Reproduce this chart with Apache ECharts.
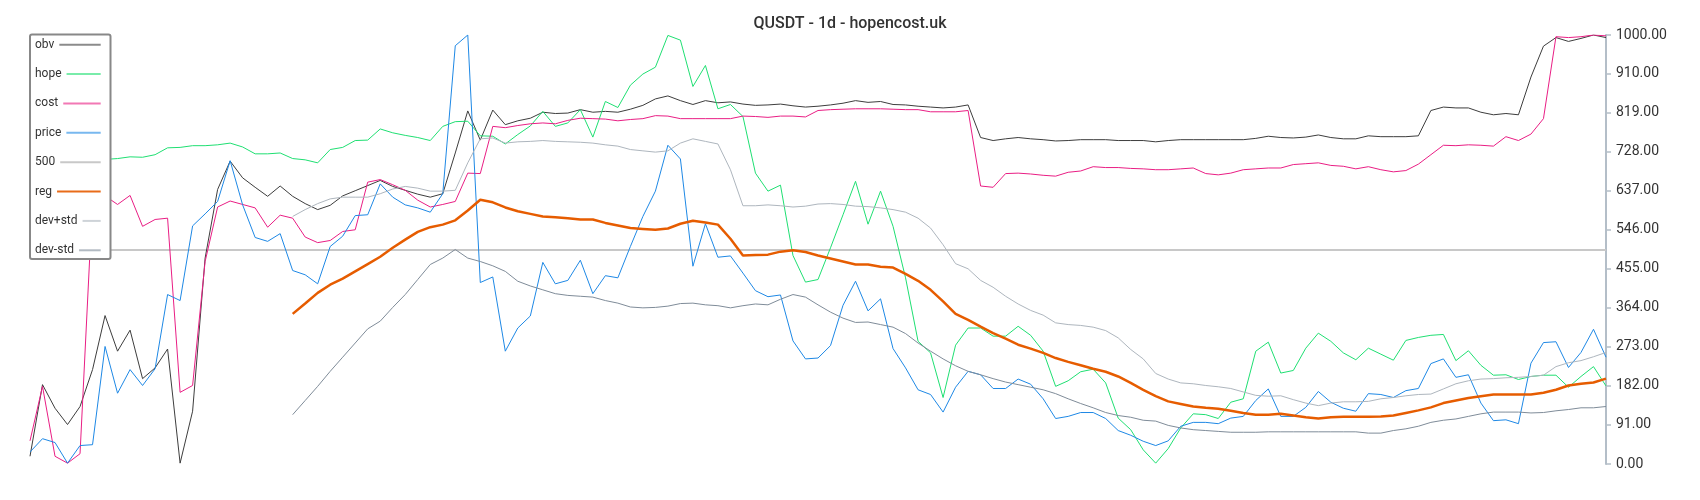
<!DOCTYPE html>
<html>
<head>
<meta charset="utf-8">
<script src="https://cdn.jsdelivr.net/npm/echarts@6/dist/echarts.min.js"></script>
<style>html,body{margin:0;padding:0;background:#fff;}#chart{width:1700px;height:500px;}</style>
</head>
<body>
<div id="chart"></div>
<script>
const titleText = 'QUSDT - 1d - hopencost.uk';
const seriesNames = ['obv', 'hope', 'cost', 'price', '500', 'reg', 'dev+std', 'dev-std'];
const yTicks = [0, 91, 182, 273, 364, 455, 546, 637, 728, 819, 910, 1000];
const level500 = 500;

const obv = [18,185,130,92,134,220,346,263,312,199,224,268,2,123,480,640,706,667,645,624,648,
624,607,593,603,625,637,649,661,647,638,629,622,630,725,823,755,825,791,800,806,
820,817,818,826,820,822,820,827,836,851,858,847,838,847,842,844,839,836,837,839,
835,832,834,837,841,847,843,845,838,837,834,832,830,832,837,761,754,758,761,758,
756,753,754,756,756,756,754,754,754,751,754,756,756,756,756,756,756,759,764,761,
760,762,767,761,758,758,765,763,763,763,765,824,832,830,830,820,814,817,814,902,974,
994,985,992,1000,994];

const hope = [708,714,711,716,713,715,710,712,716,715,721,737,738,742,742,744,748,739,723,723,725,
712,709,702,733,738,754,755,781,772,766,761,754,787,798,799,765,764,746,768,788,
822,787,795,826,762,845,831,883,909,925,999,988,880,929,828,838,810,678,636,650,
486,424,430,504,581,659,559,636,554,434,286,259,155,277,317,317,298,298,321,300,
263,181,194,215,221,189,107,80,33,2,36,84,117,115,106,144,152,263,284,212,
218,270,305,286,259,243,270,256,242,288,295,300,302,241,264,230,207,208,197,204,207,
207,179,204,227,182];

const cost = [54,181,18,2,24,615,625,605,626,554,570,573,167,183,472,599,613,605,597,552,580,
573,529,516,521,542,546,657,663,651,638,615,599,605,612,678,677,787,784,789,793,
795,793,801,806,805,804,800,803,805,812,811,805,805,805,805,805,811,810,808,811,
811,809,824,826,827,828,828,828,827,826,826,821,821,821,824,648,645,677,678,676,
673,671,680,683,693,691,691,689,688,686,686,688,690,677,674,678,686,688,690,690,
698,700,702,696,694,688,693,686,681,684,699,721,743,742,744,743,741,763,754,769,805,
996,994,996,1000,998];

const price = [28,59,50,2,43,45,274,165,220,183,222,395,381,555,583,612,707,604,528,519,537,
451,441,420,507,531,579,581,653,622,604,597,587,630,975,1000,423,436,263,317,345,
470,420,428,475,397,439,434,507,577,636,743,711,461,560,482,485,445,404,390,394,
287,245,247,276,370,426,357,385,269,224,173,162,121,179,216,208,176,176,198,186,
152,106,111,120,120,106,78,67,53,43,54,88,97,97,94,107,111,148,175,111,
111,132,169,144,130,123,164,162,155,171,176,234,245,202,208,142,101,103,94,235,283,
285,225,260,314,249];

const N = null;
const reg = [N,N,N,N,N,N,N,N,N,N,N,N,N,N,N,N,N,N,N,N,N,
350,374,399,418,432,449,466,483,504,523,541,552,558,568,591,616,610,598,589,583,
577,575,573,570,570,562,556,550,548,546,549,560,567,563,558,525,486,487,488,495,
498,494,486,479,472,465,465,460,458,443,427,406,379,350,336,320,305,292,278,269,
259,247,238,230,222,215,204,189,173,158,146,140,134,131,129,124,119,115,115,117,
113,109,106,109,110,110,110,111,113,119,125,132,142,148,154,158,162,162,162,162,166,
173,183,187,190,199];

const devPlus = [N,N,N,N,N,N,N,N,N,N,N,N,N,N,N,N,N,N,N,N,N,
577,593,607,618,622,622,622,630,641,647,643,636,636,638,702,758,760,748,751,752,
754,752,751,750,748,744,741,733,730,727,730,748,758,752,746,686,602,602,604,602,
599,601,606,607,605,601,600,597,593,587,573,550,511,467,455,428,412,391,373,358,
347,329,325,323,319,311,294,267,245,211,198,189,187,183,180,176,168,160,158,159,
150,142,136,142,145,145,146,152,155,159,162,163,175,187,194,198,199,201,202,204,207,
227,236,241,250,260];

const devMinus = [N,N,N,N,N,N,N,N,N,N,N,N,N,N,N,N,N,N,N,N,N,
115,148,181,216,249,282,315,333,365,395,430,465,480,500,480,472,462,449,426,415,
406,397,393,391,389,381,375,366,364,365,368,374,375,371,369,364,369,373,371,384,
395,389,371,354,340,330,331,325,319,304,282,263,245,229,216,208,199,191,185,179,
173,164,152,141,131,120,113,109,102,100,90,84,80,78,76,74,74,74,75,75,
75,75,75,75,75,75,72,72,78,82,88,97,102,105,111,117,121,121,121,119,120,
124,127,131,131,134];

const categories = obv.map((_, i) => String(i + 1));

const colors = {
  'obv': '#3d3d3d', 'hope': '#1fdf72', 'cost': '#e91e84', 'price': '#1e88e5',
  '500': '#c8c8c8', 'reg': '#e65c00', 'dev+std': '#aeb6be', 'dev-std': '#7f8c99'
};
const widths = {'obv':1,'hope':1,'cost':1,'price':1,'500':2,'reg':2.5,'dev+std':1,'dev-std':1};
const dataMap = {'obv': obv, 'hope': hope, 'cost': cost, 'price': price, 'reg': reg, 'dev+std': devPlus, 'dev-std': devMinus};

const series = seriesNames.map(name => {
  const s = {
    name: name, type: 'line', symbol: 'none', showSymbol: false,
    color: colors[name],
    lineStyle: {color: colors[name], width: widths[name]},
    data: name === '500' ? [] : dataMap[name],
    connectNulls: false
  };
  if (name === '500') {
    s.markLine = {
      z: 2, silent: true, symbol: ['none', 'none'], label: {show: false},
      lineStyle: {color: colors[name], width: 2, type: 'solid'},
      data: [{yAxis: level500}]
    };
  }
  return s;
});

// legend layout (one legend per entry so each line icon can end at the same x)
const legendFontSize = 12;
const legendOpacity = [0.6, 0.6, 0.6, 0.6, 1, 0.9, 0.6, 0.6];
const boxL = 30, boxT = 34.5, boxR = 110.5, boxB = 259;
const textL = 35, iconR = 100.7, rowC0 = 44.7, rowStep = 29.37, lineH = 12;
const measureCtx = document.createElement('canvas').getContext('2d');
measureCtx.font = legendFontSize + 'px Roboto';
const legends = seriesNames.map((name, k) => {
  const top = rowC0 + rowStep * k - lineH / 2;
  const w = measureCtx.measureText(name).width;
  const iconW = iconR - (textL + w + 5);
  const lg = {
    data: [name], left: textL, top: top,
    orient: 'horizontal', align: 'right', padding: 0, itemGap: 0,
    icon: 'rect', itemWidth: iconW, itemHeight: 2, selectedMode: false,
    textStyle: {fontFamily: 'Roboto', fontSize: legendFontSize, lineHeight: lineH, color: '#333'},
    itemStyle: {opacity: legendOpacity[k]},
    z: 5
  };
  if (k === 0) {
    lg.left = boxL; lg.top = boxT;
    lg.padding = [top - boxT, boxR - iconR, boxB - (top + lineH), textL - boxL];
    lg.backgroundColor = '#fff';
    lg.borderColor = '#888';
    lg.borderWidth = 2;
    lg.borderRadius = 2;
    lg.z = 4;
  }
  return lg;
});

const chart = echarts.init(document.getElementById('chart'), null, {renderer: 'canvas'});
chart.setOption({
  animation: false,
  backgroundColor: '#fff',
  title: {
    text: titleText, left: 'center', top: 11,
    textStyle: {fontFamily: 'Roboto', fontSize: 16, fontWeight: 500, color: '#333'}
  },
  grid: {left: 30, right: 94, top: 35, bottom: 36},
  legend: legends,
  xAxis: {type: 'category', data: categories, boundaryGap: false, show: false},
  yAxis: {
    type: 'value', position: 'right', min: 0, max: 1000,
    axisLine: {show: true, lineStyle: {color: '#b4bec8', width: 2}},
    axisTick: {show: true, length: 5, customValues: yTicks, lineStyle: {color: '#b4bec8', width: 1.5}},
    axisLabel: {customValues: yTicks, margin: 10, fontFamily: 'Roboto', fontSize: 14, color: '#333',
      formatter: v => Number(v).toFixed(2)},
    splitLine: {show: false}
  },
  series: series
});
</script>
</body>
</html>
